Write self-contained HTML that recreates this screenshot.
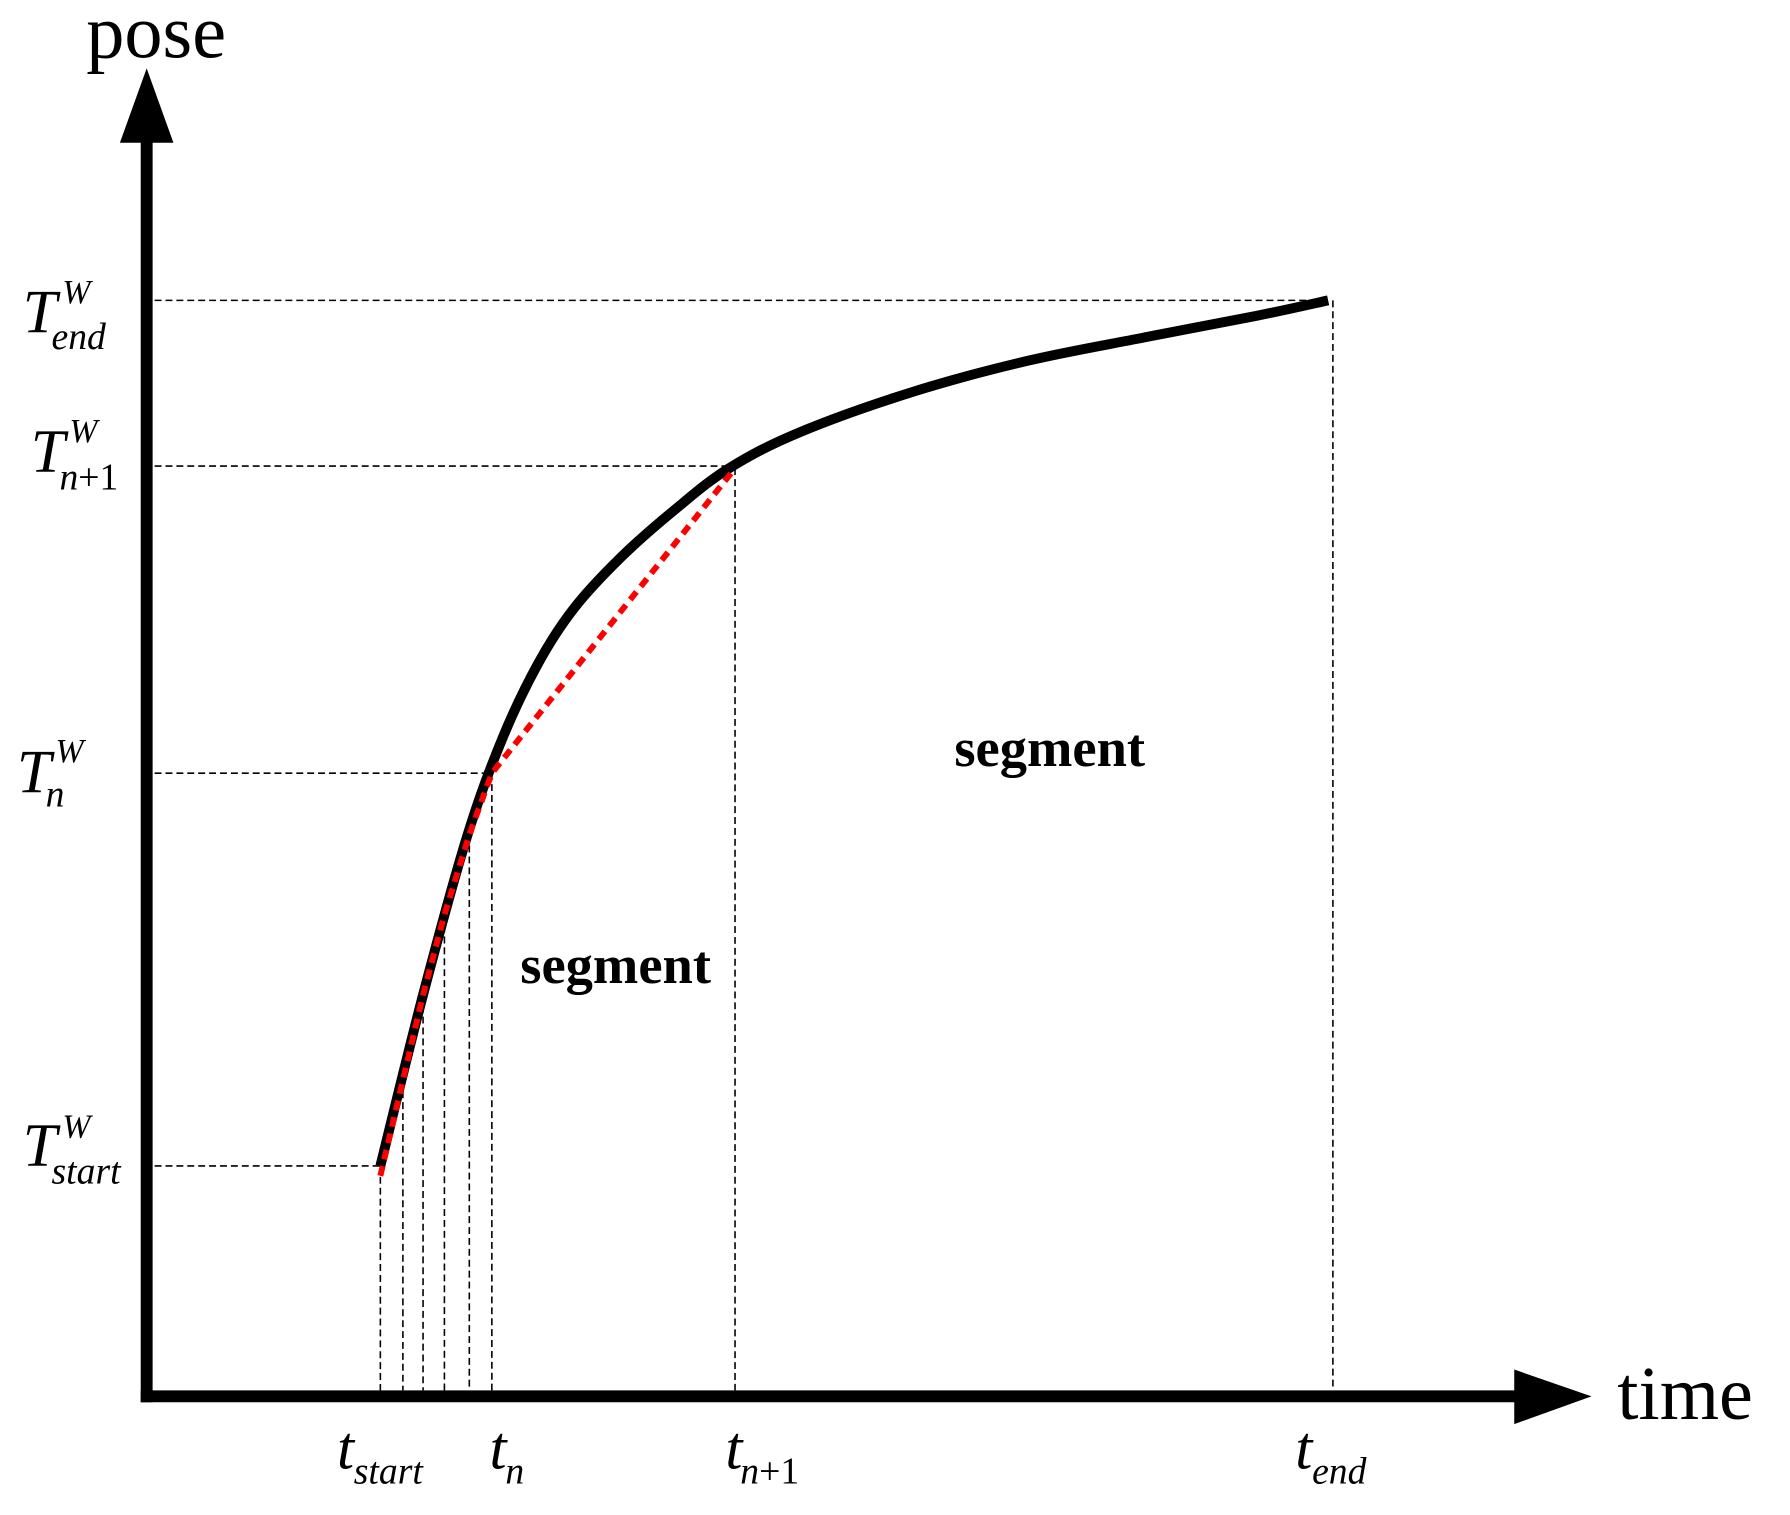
<!DOCTYPE html>
<html><head><meta charset="utf-8"><style>
html,body{margin:0;padding:0;background:#fff;}
svg{display:block;}
text{font-family:"Liberation Serif",serif;}
.it{font-style:italic;}
</style></head><body>
<svg id="chart" width="1790" height="1515" viewBox="0 0 1790 1515" xmlns="http://www.w3.org/2000/svg">
<g transform="scale(0.991)">
<g id="guides"></g>
<g id="axes">
  <line x1="148" y1="140" x2="148" y2="1415" stroke="#000" stroke-width="12"/>
  <line x1="142" y1="1409" x2="1535" y2="1409" stroke="#000" stroke-width="12"/>
  <polygon points="148,69 121,144 175,144" fill="#000"/>
  <polygon points="1606,1409 1528,1382 1528,1437" fill="#000"/>
  <text x="87" y="58" font-size="77">pose</text>
  <text x="1632" y="1432" font-size="77">time</text>
</g>
<g id="series"></g>
<g font-size="62">
  <text class="it" x="23" y="335">T</text>
  <text class="it" x="63" y="306" font-size="34">W</text>
  <text class="it" x="52" y="352" font-size="38">end</text>
  <text class="it" x="31" y="476">T</text>
  <text class="it" x="70" y="446" font-size="34">W</text>
  <text x="60" y="494" font-size="38"><tspan class="it">n</tspan>+1</text>
  <text class="it" x="17" y="799">T</text>
  <text class="it" x="56" y="769" font-size="34">W</text>
  <text class="it" x="46" y="814" font-size="38">n</text>
  <text class="it" x="23" y="1176">T</text>
  <text class="it" x="63" y="1148" font-size="34">W</text>
  <text class="it" x="52" y="1194" font-size="38">start</text>
</g>
<g font-size="62">
  <text class="it" x="340" y="1482">t</text>
  <text class="it" x="357" y="1497" font-size="38">start</text>
  <text class="it" x="494" y="1482">t</text>
  <text class="it" x="510" y="1497" font-size="38">n</text>
  <text class="it" x="732" y="1482">t</text>
  <text x="747" y="1497" font-size="38"><tspan class="it">n</tspan>+1</text>
  <text class="it" x="1307" y="1482">t</text>
  <text class="it" x="1324" y="1497" font-size="38">end</text>
</g>
<text x="525" y="992" font-size="55" font-weight="bold">segment</text>
<text x="963" y="773" font-size="55" font-weight="bold">segment</text>
</g>
</svg>
<script>
const curveT = [197,233,270,300,330,360,400,445,491,551,647,743,840,936,996];
const curvePose = [210,366,510,600,668,718,765,808,846,879,916,944,965,985,999];
const chordT = [197,216,233,251,272,291,496];
const chordPose = [210,288,366,439,512,568,846];
const vGuideT = [197,216,233,251,272,291,496,1000];
const vGuideTop = [210,288,366,439,512,568,846,999];
const hGuidePose = [999,848,568,210];
const hGuideEndT = [996,491,289,197];

const NS = 'http://www.w3.org/2000/svg';
function xs(t){return 148 + t*1.197;}
function ys(p){return 1409 - p*1.107;}

const guides = document.getElementById('guides');
for (let i=0;i<vGuideT.length;i++){
  const l=document.createElementNS(NS,'line');
  
  
  l.setAttribute('x1',xs(vGuideT[i]));l.setAttribute('x2',xs(vGuideT[i]));
  l.setAttribute('y1',ys(vGuideTop[i]));l.setAttribute('y2',1403);
  l.setAttribute('stroke','#000');l.setAttribute('stroke-width','1.6');
  l.setAttribute('stroke-dasharray','7 4');
  guides.appendChild(l);
}
for (let i=0;i<hGuidePose.length;i++){
  const l=document.createElementNS(NS,'line');
  
  
  l.setAttribute('x1',156);l.setAttribute('x2',xs(hGuideEndT[i]));
  l.setAttribute('y1',ys(hGuidePose[i]));l.setAttribute('y2',ys(hGuidePose[i]));
  l.setAttribute('stroke','#000');l.setAttribute('stroke-width','1.6');
  l.setAttribute('stroke-dasharray','7 4');
  guides.appendChild(l);
}

function smoothPath(px,py){
  let d='M'+px[0]+','+py[0];
  for(let i=0;i<px.length-1;i++){
    const x0=px[Math.max(i-1,0)],y0=py[Math.max(i-1,0)];
    const x1=px[i],y1=py[i],x2=px[i+1],y2=py[i+1];
    const x3=px[Math.min(i+2,px.length-1)],y3=py[Math.min(i+2,px.length-1)];
    d+=' C'+(x1+(x2-x0)/6)+','+(y1+(y2-y0)/6)+' '+(x2-(x3-x1)/6)+','+(y2-(y3-y1)/6)+' '+x2+','+y2;
  }
  return d;
}
const series=document.getElementById('series');
const cp=document.createElementNS(NS,'path');


cp.setAttribute('d',smoothPath(curveT.map(xs),curvePose.map(ys)));
cp.setAttribute('fill','none');cp.setAttribute('stroke','#000');cp.setAttribute('stroke-width','10');
series.appendChild(cp);

const rp=document.createElementNS(NS,'polyline');


rp.setAttribute('points',chordT.map((t,i)=>xs(t)+','+(ys(chordPose[i])+(i===0?10:0))).join(' '));
rp.setAttribute('fill','none');rp.setAttribute('stroke','#ff0000');rp.setAttribute('stroke-width','6');
rp.setAttribute('stroke-dasharray','10 7');
series.appendChild(rp);
</script>
</body></html>
